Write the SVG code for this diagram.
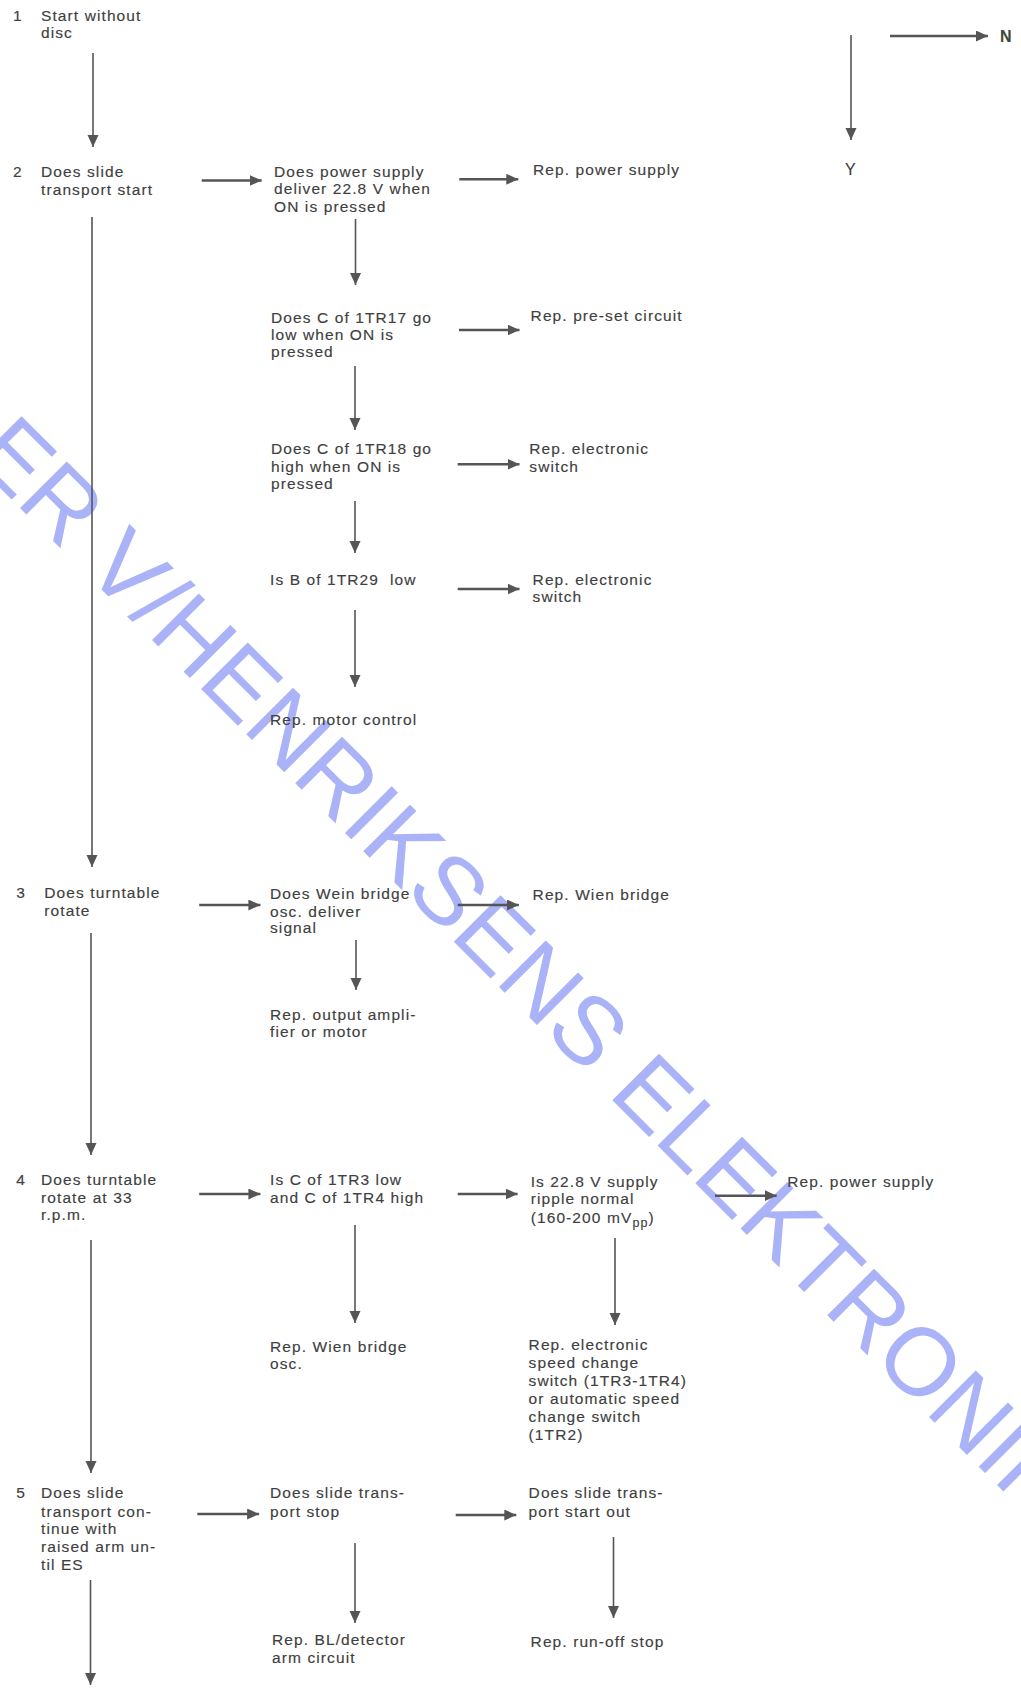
<svg xmlns="http://www.w3.org/2000/svg" width="1021" height="1690" viewBox="0 0 1021 1690">
<style>
.t{font-family:"Liberation Sans",Arial,sans-serif;font-size:15.5px;letter-spacing:1.1px;fill:#404040;stroke:#404040;stroke-width:0.15px}
.v{stroke:#555;stroke-width:1.6;fill:none}
.h{stroke:#555;stroke-width:2.6;fill:none}
.wm{font-family:"Liberation Sans",Arial,sans-serif;font-size:96px;fill:#aab3f7}
</style>
<defs>
<marker id="ah" markerUnits="userSpaceOnUse" markerWidth="13" markerHeight="12" refX="12" refY="5.5" orient="auto">
<path d="M0,0 L12,5.5 L0,11 z" fill="#555"/>
</marker>
</defs>
<rect width="1021" height="1690" fill="#ffffff"/>
<g id="watermark">
<text class="wm" transform="translate(-30.8,457.2) rotate(45)">ER V/HENRIKSENS ELEKTRONIK</text>
</g>
<g id="legend">
<text class="t" x="851" y="175" text-anchor="middle" style="font-size:16px">Y</text>
<text class="t" x="1000" y="41.7" style="font-size:16px;font-weight:bold;fill:#3d4a3d">N</text>
</g>
<g id="n1">
<text class="t" x="13" y="20.7">1</text>
<text class="t" x="41" y="20.7">Start without</text>
<text class="t" x="41" y="37.7">disc</text>
</g>
<g id="n2">
<text class="t" x="13" y="176.7">2</text>
<text class="t" x="41" y="176.7">Does slide</text>
<text class="t" x="41" y="195">transport start</text>
</g>
<g id="n2a">
<text class="t" x="274" y="176.7">Does power supply</text>
<text class="t" x="274" y="194.3">deliver 22.8 V when</text>
<text class="t" x="274" y="211.7">ON is pressed</text>
</g>
<g id="n2a-rep">
<text class="t" x="533" y="175">Rep. power supply</text>
</g>
<g id="n2b">
<text class="t" x="271" y="322.7">Does C of 1TR17 go</text>
<text class="t" x="271" y="340">low when ON is</text>
<text class="t" x="271" y="357">pressed</text>
</g>
<g id="n2b-rep">
<text class="t" x="530.6" y="320.7">Rep. pre-set circuit</text>
</g>
<g id="n2c">
<text class="t" x="271" y="454">Does C of 1TR18 go</text>
<text class="t" x="271" y="471.7">high when ON is</text>
<text class="t" x="271" y="489">pressed</text>
</g>
<g id="n2c-rep">
<text class="t" x="529.3" y="454.3">Rep. electronic</text>
<text class="t" x="529.3" y="471.7">switch</text>
</g>
<g id="n2d">
<text class="t" x="270" y="585">Is B of 1TR29&#160; low</text>
</g>
<g id="n2d-rep">
<text class="t" x="532.6" y="585">Rep. electronic</text>
<text class="t" x="532.6" y="602.3">switch</text>
</g>
<g id="n2e">
<text class="t" x="270" y="725">Rep. motor control</text>
</g>
<g id="n3">
<text class="t" x="16.3" y="898.3">3</text>
<text class="t" x="44.3" y="898.3">Does turntable</text>
<text class="t" x="44.3" y="916">rotate</text>
</g>
<g id="n3a">
<text class="t" x="270" y="899">Does Wein bridge</text>
<text class="t" x="270" y="916.7">osc. deliver</text>
<text class="t" x="270" y="933.3">signal</text>
</g>
<g id="n3a-rep">
<text class="t" x="532.6" y="900">Rep. Wien bridge</text>
</g>
<g id="n3b">
<text class="t" x="270" y="1020">Rep. output ampli-</text>
<text class="t" x="270" y="1036.7">fier or motor</text>
</g>
<g id="n4">
<text class="t" x="16.3" y="1185">4</text>
<text class="t" x="41" y="1185">Does turntable</text>
<text class="t" x="41" y="1202.7">rotate at 33</text>
<text class="t" x="41" y="1220">r.p.m.</text>
</g>
<g id="n4a">
<text class="t" x="270" y="1185">Is C of 1TR3 low</text>
<text class="t" x="270" y="1203.3">and C of 1TR4 high</text>
</g>
<g id="n4b">
<text class="t" x="530.7" y="1186.7">Is 22.8 V supply</text>
<text class="t" x="530.7" y="1204">ripple normal</text>
<text class="t" x="530.7" y="1222.7">(160-200 mV<tspan style="font-size:12.5px" dy="4.5">pp</tspan><tspan dy="-4.5">)</tspan></text>
</g>
<g id="n4b-rep">
<text class="t" x="787.3" y="1186.7">Rep. power supply</text>
</g>
<g id="n4a-rep">
<text class="t" x="270" y="1351.7">Rep. Wien bridge</text>
<text class="t" x="270" y="1369.3">osc.</text>
</g>
<g id="n4b-rep2">
<text class="t" x="528.6" y="1350">Rep. electronic</text>
<text class="t" x="528.6" y="1367.7">speed change</text>
<text class="t" x="528.6" y="1386">switch (1TR3-1TR4)</text>
<text class="t" x="528.6" y="1404">or automatic speed</text>
<text class="t" x="528.6" y="1422">change switch</text>
<text class="t" x="528.6" y="1440">(1TR2)</text>
</g>
<g id="n5">
<text class="t" x="16.3" y="1498.3">5</text>
<text class="t" x="41" y="1498.3">Does slide</text>
<text class="t" x="41" y="1516.7">transport con-</text>
<text class="t" x="41" y="1534">tinue with</text>
<text class="t" x="41" y="1551.7">raised arm un-</text>
<text class="t" x="41" y="1570">til ES</text>
</g>
<g id="n5a">
<text class="t" x="270" y="1498.3">Does slide trans-</text>
<text class="t" x="270" y="1516.7">port stop</text>
</g>
<g id="n5b">
<text class="t" x="528.6" y="1498.3">Does slide trans-</text>
<text class="t" x="528.6" y="1516.7">port start out</text>
</g>
<g id="n5a-rep">
<text class="t" x="272" y="1645">Rep. BL/detector</text>
<text class="t" x="272" y="1662.7">arm circuit</text>
</g>
<g id="n5b-rep">
<text class="t" x="530.6" y="1646.7">Rep. run-off stop</text>
</g>
<g id="connectors">
<line class="v" x1="851" y1="35" x2="851" y2="140" marker-end="url(#ah)"/>
<line class="h" x1="890" y1="36" x2="988" y2="36" marker-end="url(#ah)"/>
<line class="v" x1="93" y1="53" x2="93" y2="147" marker-end="url(#ah)"/>
<line class="v" x1="92" y1="217" x2="92" y2="867" marker-end="url(#ah)"/>
<line class="v" x1="91" y1="933" x2="91" y2="1155" marker-end="url(#ah)"/>
<line class="v" x1="91" y1="1240" x2="91" y2="1473" marker-end="url(#ah)"/>
<line class="v" x1="90.5" y1="1580" x2="90.5" y2="1685" marker-end="url(#ah)"/>
<line class="v" x1="355.5" y1="219" x2="355.5" y2="285" marker-end="url(#ah)"/>
<line class="v" x1="355" y1="366" x2="355" y2="430" marker-end="url(#ah)"/>
<line class="v" x1="355" y1="501" x2="355" y2="553" marker-end="url(#ah)"/>
<line class="v" x1="355" y1="610" x2="355" y2="687" marker-end="url(#ah)"/>
<line class="v" x1="356" y1="940" x2="356" y2="990" marker-end="url(#ah)"/>
<line class="v" x1="355" y1="1225" x2="355" y2="1323" marker-end="url(#ah)"/>
<line class="v" x1="615" y1="1238" x2="615" y2="1325" marker-end="url(#ah)"/>
<line class="v" x1="355" y1="1543" x2="355" y2="1623" marker-end="url(#ah)"/>
<line class="v" x1="613.5" y1="1537" x2="613.5" y2="1618" marker-end="url(#ah)"/>
<line class="h" x1="201.7" y1="180.5" x2="261.7" y2="180.5" marker-end="url(#ah)"/>
<line class="h" x1="459.3" y1="179.3" x2="518.3" y2="179.3" marker-end="url(#ah)"/>
<line class="h" x1="459" y1="330" x2="519.5" y2="330" marker-end="url(#ah)"/>
<line class="h" x1="457.7" y1="464.3" x2="519.5" y2="464.3" marker-end="url(#ah)"/>
<line class="h" x1="457.7" y1="589" x2="519.5" y2="589" marker-end="url(#ah)"/>
<line class="h" x1="199.2" y1="905" x2="260.4" y2="905" marker-end="url(#ah)"/>
<line class="h" x1="457.7" y1="905" x2="518.9" y2="905" marker-end="url(#ah)"/>
<line class="h" x1="199.2" y1="1194" x2="260.4" y2="1194" marker-end="url(#ah)"/>
<line class="h" x1="457.7" y1="1194" x2="517.6" y2="1194" marker-end="url(#ah)"/>
<line class="h" x1="715" y1="1195.7" x2="776.7" y2="1195.7" marker-end="url(#ah)"/>
<line class="h" x1="197.3" y1="1514" x2="259.1" y2="1514" marker-end="url(#ah)"/>
<line class="h" x1="455.7" y1="1515" x2="516.3" y2="1515" marker-end="url(#ah)"/>
</g>
</svg>
